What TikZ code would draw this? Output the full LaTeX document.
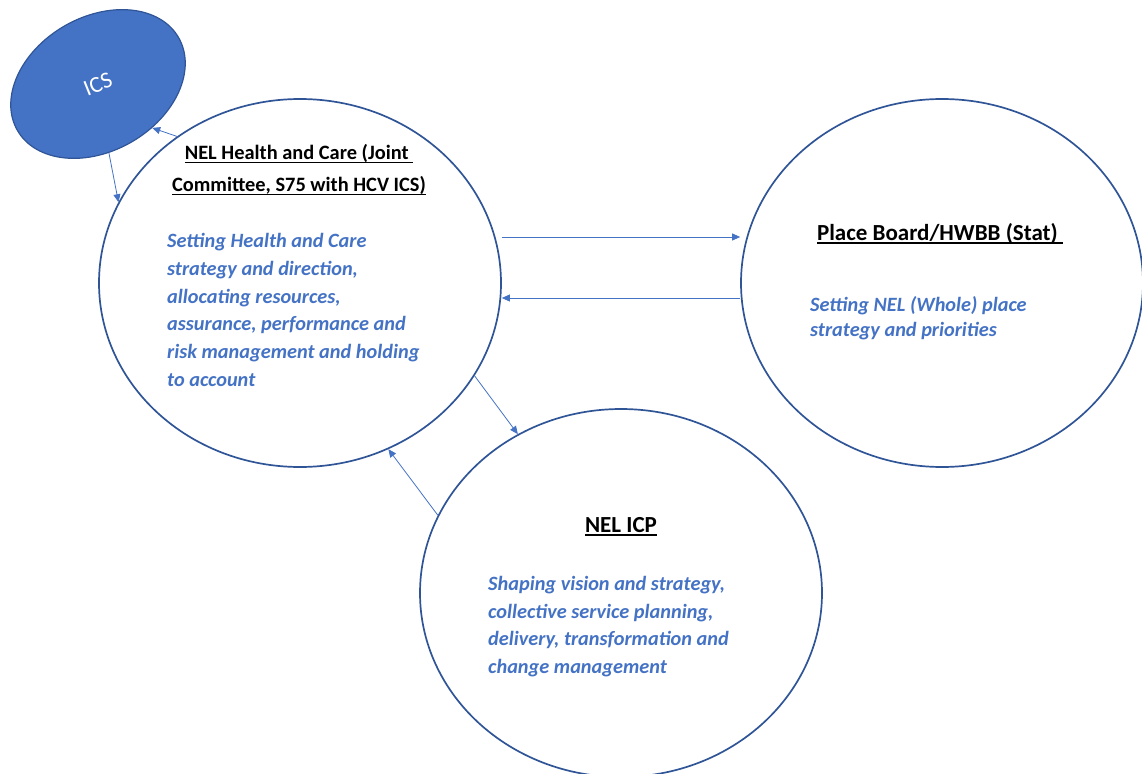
\documentclass[tikz,border=0pt]{standalone}
\usepackage{fontspec}
\setmainfont{Carlito}
\usepackage{tikz}
\usetikzlibrary{arrows.meta}
\usetikzlibrary{shapes.geometric}
\definecolor{ringblue}{HTML}{2F5597}
\definecolor{textblue}{HTML}{4472C4}
\newcommand{\undl}[1]{\leavevmode\setbox0\hbox{#1}\rlap{\rule[-3.6pt]{\wd0}{1.3pt}}\box0}

\tikzset{
  ring/.style={ellipse, draw=ringblue, line width=1.7pt, minimum width=402pt, minimum height=368pt, inner sep=0pt},
  link/.style={draw=textblue, line width=0.8pt, -{Triangle[length=8pt,width=7pt]}},
  head/.style={text=black, align=center, inner sep=0pt, anchor=base},
  blurb/.style={text=textblue, align=left, inner sep=0pt, anchor=base west}
}

\begin{document}
\begin{tikzpicture}[x=1pt,y=-1pt]
              \useasboundingbox (0,0) rectangle (1142,773);
              \node[ring] (hc) at (300,283) {};
              \node[ring] (place) at (942,283) {};
              \node[ring] (icp) at (621,593) {};
              \node[ellipse, fill=textblue, draw=ringblue, line width=1.2pt, minimum width=186pt, minimum height=134pt, inner sep=0pt, rotate=30] (ics) at (98,84) {};
              \node[rotate=22, text=white, font=\fontsize{23}{28}\selectfont] (icslabel) at (ics.center) {ICS};
              \node[head, font=\bfseries\fontsize{20.4}{32.4}\selectfont] (hctitle) at (299,191.7) {\undl{NEL Health and Care (Joint~}\\\undl{Committee, S75 with HCV ICS)}};
              \node[blurb, font=\bfseries\itshape\fontsize{20.3}{27.8}\selectfont] (hctext) at (167,386.5) {Setting Health and Care\\strategy and direction,\\allocating resources,\\assurance, performance and\\risk management and holding\\to account};
              \node[head, font=\bfseries\fontsize{23}{28}\selectfont] (placetitle) at (940,240) {\undl{Place Board/HWBB (Stat)~}};
              \node[blurb, font=\bfseries\itshape\fontsize{20.3}{25}\selectfont] (placetext) at (810,336.7) {Setting NEL (Whole) place\\strategy and priorities};
              \node[head, font=\bfseries\fontsize{23}{28}\selectfont] (icptitle) at (621,532) {\undl{NEL ICP}};
              \node[blurb, font=\bfseries\itshape\fontsize{20.3}{27.6}\selectfont] (icptext) at (488,673.3) {Shaping vision and strategy,\\collective service planning,\\delivery, transformation and\\change management};
              \draw[link] (hc.130.7) -- (ics.-69);
              \draw[link] (ics.-111) -- (hc.156);
              \draw[link] ([yshift=46pt]hc.east) -- ([yshift=46pt]place.west);
              \draw[link] ([yshift=-15pt]place.west) -- ([yshift=-15pt]hc.east);
              \draw[link] (hc.-28.2) -- (icp.123.7);
              \draw[link] (icp.157.4) -- (hc.-62.2);
            \end{tikzpicture}
\end{document}
